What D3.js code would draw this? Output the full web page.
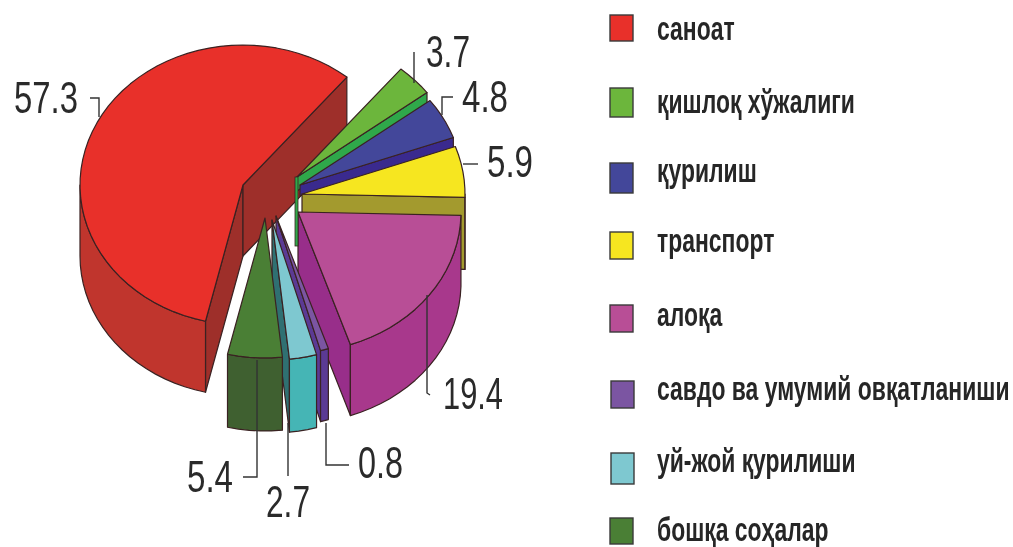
<!DOCTYPE html>
<html>
<head>
<meta charset="utf-8">
<style>
  html, body { margin: 0; padding: 0; background: #fff; }
  svg { display: block; filter: blur(0.5px); }
  .num { font-family: "Liberation Sans", sans-serif; fill: #2a2a2a; }
  .leg { font-family: "Liberation Sans", sans-serif; font-weight: 700; fill: #262626; }
</style>
</head>
<body>
<svg id="chart" width="1013" height="547"></svg>
<script src="https://cdn.jsdelivr.net/npm/d3@7/dist/d3.min.js"></script>
<script>
// Data
var categories = ['саноат', 'қишлоқ хўжалиги', 'қурилиш', 'транспорт', 'алоқа',
  'савдо ва умумий овқатланиши', 'уй-жой қурилиши', 'бошқа соҳалар'];
var shares = [57.3, 3.7, 4.8, 5.9, 19.4, 0.8, 2.7, 5.4];
var shareLabels = ['57.3', '3.7', '4.8', '5.9', '19.4', '0.8', '2.7', '5.4'];

// Colours per slice
var topColors = ['#e8302a', '#6cb63c', '#43479a', '#f6e620', '#b84e96', '#7b55a2', '#7ec8d0', '#4a7f35'];
var outerColors = ['#c0352d', '#4aa53c', '#3a2a8e', '#a39a2e', '#a8388c', '#5b3a94', '#45b5b5', '#3f6030'];
var cutColors = ['#9e2f2a', '#2fa84a', '#3a2a8e', '#a39a2e', '#982e8a', '#5b3a94', '#2f7072', '#3f6030'];

// Layout of the exploded pie: each slice has its own centre
var centerX = [243, 297, 300, 302, 298, 276, 272, 265];
var centerY = [185, 177, 185, 194, 212, 216, 220, 218];
var depths = [71, 14, 11, 72, 71, 71, 73, 73];
var drawOrder = [0, 1, 2, 3, 4, 5, 6, 7];
var rx = 163, ry = 140;

// Number labels and their leader lines
var labelX = [14, 426, 462, 487, 443, 358, 266, 187];
var labelW = [64, 44, 46, 46, 60, 45, 44, 46];
var labelBase = [113, 67, 112, 177, 409, 478, 517, 492];
var leaders = [
  [[90, 98], [99, 98], [99, 117]],
  [[414, 52], [414, 83]],
  [[453, 97], [442, 97], [442, 115]],
  [[478, 164], [463, 164]],
  [[427, 295], [427, 393], [430, 395]],
  [[326, 423], [326, 465], [349, 465]],
  [[288, 423], [288, 476]],
  [[257, 360], [257, 477], [243, 477]]
];

// Legend rows
var legendSwatchY = [15, 88, 163, 232, 305, 381, 453, 518];
var legendSwatchH = [26, 29, 30, 27, 27, 27, 31, 26];
var legendBase = [40, 113, 182, 252, 326, 400, 472, 541];

var stroke = '#3a2222';
var svg = d3.select('#chart');
var deg = Math.PI / 180;

var pie = d3.pie().sort(null).startAngle(193.3 * deg).endAngle((193.3 + 360) * deg);
var arcs = pie(shares);

function project(i, a, dz) {
  return [centerX[i] + rx * Math.sin(a), centerY[i] - ry * Math.cos(a) + (dz || 0)];
}

function arcPoints(i, a0, a1, dz) {
  var n = Math.max(2, Math.ceil((a1 - a0) / (4 * deg)));
  return d3.range(n + 1).map(function (k) {
    return project(i, a0 + (a1 - a0) * k / n, dz);
  });
}

var line = d3.line().curve(d3.curveLinear);

function face(points, fill) {
  svg.append('path')
    .attr('d', line(points) + 'Z')
    .attr('fill', fill)
    .attr('stroke', stroke)
    .attr('stroke-width', 1.2)
    .attr('stroke-linejoin', 'round');
}

function cutFace(i, a) {
  var d = depths[i];
  var c = [centerX[i], centerY[i]];
  var t = project(i, a);
  face([c, t, [t[0], t[1] + d], [c[0], c[1] + d]], cutColors[i]);
}

// Back to front, cut faces first, then the rim, then the top
drawOrder.forEach(function (i) {
  var s = arcs[i].startAngle, e = arcs[i].endAngle;
  if (Math.sin(s) < 0) cutFace(i, s);
  if (Math.sin(e) > 0) cutFace(i, e);

  // the rim faces the viewer between 90 and 270 degrees; angles run past 360
  [0, 360].forEach(function (turn) {
    var r0 = Math.max(s, (90 + turn) * deg), r1 = Math.min(e, (270 + turn) * deg);
    if (r1 > r0) {
      face(arcPoints(i, r0, r1, 0).concat(arcPoints(i, r0, r1, depths[i]).reverse()), outerColors[i]);
    }
  });
  face([[centerX[i], centerY[i]]].concat(arcPoints(i, s, e, 0)), topColors[i]);
});

// the thin green edge left standing at the apex of the second slice
svg.append('rect')
  .attr('x', centerX[1] - 2).attr('y', centerY[1])
  .attr('width', 3).attr('height', 69)
  .attr('fill', cutColors[1]).attr('stroke', stroke).attr('stroke-width', 0.8);

// Leader lines
svg.append('g').selectAll('path')
  .data(leaders)
  .join('path')
  .attr('d', function (d) { return line(d); })
  .attr('fill', 'none')
  .attr('stroke', '#333')
  .attr('stroke-width', 1.4);

// Number labels are tall and narrow in the picture
var labelFont = 45;
svg.append('g').selectAll('text')
  .data(shareLabels)
  .join('text')
  .attr('class', 'num')
  .attr('font-size', labelFont)
  .attr('x', function (d, i) { return labelX[i]; })
  .attr('y', function (d, i) { return labelBase[i]; })
  .attr('textLength', function (d, i) { return labelW[i]; })
  .attr('lengthAdjust', 'spacingAndGlyphs')
  .text(function (d) { return d; });

// Legend
var legend = svg.append('g');
categories.forEach(function (name, i) {
  legend.append('rect')
    .attr('x', i === 5 || i === 6 ? 611 : 610)
    .attr('y', legendSwatchY[i])
    .attr('width', 23)
    .attr('height', legendSwatchH[i])
    .attr('fill', topColors[i])
    .attr('stroke', '#3a3a3a')
    .attr('stroke-width', 1.4);

  // squeeze the glyphs to the narrow width of the reference
  legend.append('text')
    .attr('class', 'leg')
    .attr('font-size', 33)
    .attr('transform', 'translate(657,' + legendBase[i] + ') scale(0.695,1)')
    .text(name);
});
</script>
</body>
</html>
